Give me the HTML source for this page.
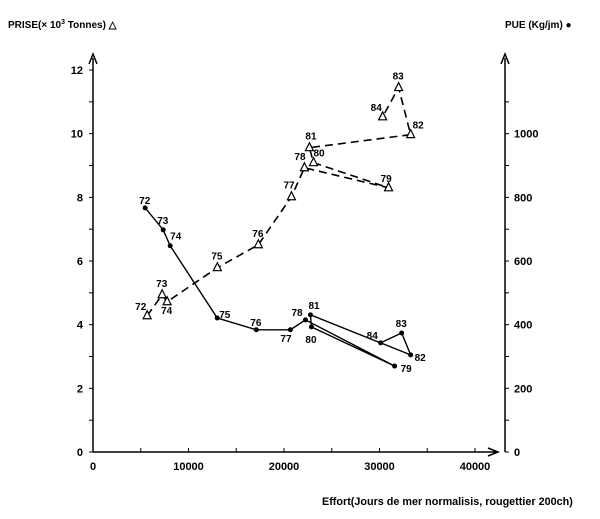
<!DOCTYPE html>
<html><head><meta charset="utf-8"><style>
body{margin:0;background:#fff}
svg{display:block;font-family:"Liberation Sans",sans-serif;font-weight:bold}
</style></head><body>
<svg id="c" width="600" height="519" viewBox="0 0 600 519">
<text x="8" y="28" font-size="10">PRISE(× 10<tspan dy="-4" font-size="7">3</tspan><tspan dy="4"> Tonnes)  △</tspan></text>
<text x="505" y="28" font-size="10">PUE (Kg/jm)  ●</text>
<text x="322" y="505" font-size="10.8">Effort(Jours de mer normalisis, rougettier 200ch)</text>
<g id="axes" stroke="#000" stroke-width="1.5" fill="none"></g>
<g id="series"></g>
</svg>
<script>
const years=["72","73","74","75","76","77","78","79","80","81","82","83","84"];
const effortPrise=[5670,7240,7760,13020,17310,20780,22140,30950,23090,22660,33260,32000,30330];
const prise=[4.28,4.94,4.72,5.79,6.51,8.02,8.93,8.30,9.09,9.56,9.97,11.45,10.53];
const effortPue=[5460,7350,8080,13010,17100,20670,22250,31580,22870,22770,33260,32320,30120];
const pue=[767,698,648,421,384,384,415,270,393,431,305,374,343];
const xTicks=[0,10000,20000,30000,40000];
const yTicks=[0,2,4,6,8,10,12];
const y2Ticks=[0,200,400,600,800,1000];
const NS="http://www.w3.org/2000/svg";
const X=v=>93+v*0.00955, Y=v=>452-v*31.83, Y2=v=>452-v*0.3183;
function mk(t,a,p){const e=document.createElementNS(NS,t);for(const k in a)e.setAttribute(k,a[k]);(p||document.getElementById('series')).appendChild(e);return e;}
const ax=document.getElementById('axes');
let l;
l=mk('path',{d:"M93,452 L93,58 M89,64 L93,54 L97,64 M93,452 L497,452 M488,448 L498,452 L488,456 M505,452 L505,58 M501,64 L505,54 L509,64"},ax);


for(let v=0;v<=40000;v+=5000){l=mk('line',{x1:X(v),x2:X(v),y1:452,y2:448,'stroke-width':1},ax);}
for(let v=0;v<=12;v+=1){l=mk('line',{x1:89,x2:93,y1:Y(v),y2:Y(v),'stroke-width':1},ax);}
for(let v=0;v<=1100;v+=100){l=mk('line',{x1:505,x2:509,y1:Y2(v),y2:Y2(v),'stroke-width':1},ax);}
xTicks.forEach(v=>{const t=mk('text',{x:X(v),y:470,'font-size':11,'text-anchor':'middle'});t.textContent=v;});
yTicks.forEach(v=>{const t=mk('text',{x:83,y:Y(v)+4,'font-size':11,'text-anchor':'end'});t.textContent=v;});
y2Ticks.forEach(v=>{const t=mk('text',{x:514,y:Y2(v)+4,'font-size':11});t.textContent=v;});
let d=effortPrise.map((e,i)=>(i?'L':'M')+X(e)+','+Y(prise[i])).join(' ');
l=mk('path',{d:d,stroke:'#000','stroke-width':1.6,fill:'none','stroke-dasharray':'8,5'});


d=effortPue.map((e,i)=>(i?'L':'M')+X(e)+','+Y2(pue[i])).join(' ');
l=mk('path',{d:d,stroke:'#000','stroke-width':1.4,fill:'none'});


const pdx=[-12,-6,-6,-6,-6,-8,-10,-8,0,-4,2,-6,-12], pdy=[-6,-8,12,-8,-8,-8,-8,-6,-6,-8,-6,-8,-6];
const qdx=[-6,-6,0,2,-6,-10,-14,6,-6,-2,4,-6,-14], qdy=[-4,-6,-6,0,-4,12,-4,6,16,-6,6,-6,-4];
years.forEach((yr,i)=>{
 const x=X(effortPrise[i]),y=Y(prise[i]);
 const tr=mk('path',{d:`M${x},${y-5} L${x+4},${y+3} L${x-4},${y+3} Z`,fill:'#fff',stroke:'#000','stroke-width':1.2});
 
 
 let t=mk('text',{x:x+pdx[i],y:y+pdy[i],'font-size':10});t.textContent=yr;
 
 
 const x2=X(effortPue[i]),y2=Y2(pue[i]);
 const c=mk('circle',{cx:x2,cy:y2,r:2.5,fill:'#000'});
 
 
 t=mk('text',{x:x2+qdx[i],y:y2+qdy[i],'font-size':10});t.textContent=yr;
 
 
});
</script>
</body></html>
